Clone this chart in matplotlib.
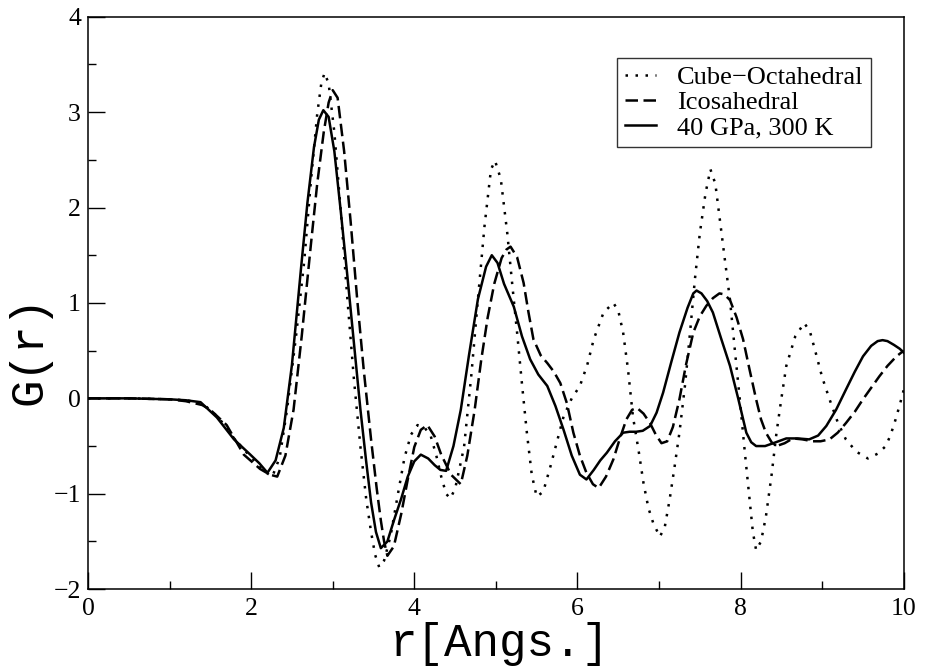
import numpy as np
import matplotlib
matplotlib.use("Agg")
import matplotlib.pyplot as plt

# values
r_cubo = [0.0, 0.5, 1.0, 1.2, 1.4, 1.6, 1.8, 2.0, 2.15, 2.26, 2.35, 2.44, 2.55, 2.65, 2.73, 2.81, 2.86, 2.9,
          2.95, 3.02, 3.1, 3.18, 3.26, 3.34, 3.41, 3.47, 3.52, 3.57, 3.63, 3.71, 3.8, 3.88, 3.96, 4.04, 4.12,
          4.2, 4.27, 4.33, 4.39, 4.44, 4.5, 4.61, 4.7, 4.78, 4.86, 4.94, 4.99, 5.06, 5.14, 5.2, 5.26, 5.32,
          5.38, 5.44, 5.5, 5.58, 5.67, 5.75, 5.83, 5.93, 6.03, 6.12, 6.2, 6.32, 6.44, 6.5, 6.56, 6.62, 6.68,
          6.75, 6.81, 6.87, 6.93, 7.01, 7.07, 7.13, 7.19, 7.25, 7.32, 7.38, 7.44, 7.5, 7.57, 7.63, 7.69, 7.74,
          7.8, 7.87, 7.93, 7.99, 8.05, 8.11, 8.15, 8.19, 8.25, 8.31, 8.38, 8.44, 8.5, 8.56, 8.67, 8.78, 8.85,
          8.92, 9.0, 9.09, 9.19, 9.29, 9.42, 9.56, 9.68, 9.78, 9.84, 9.9, 9.95, 10.0]
g_cubo = [0.0, 0.0, -0.01, -0.02, -0.05, -0.2, -0.43, -0.62, -0.76, -0.82, -0.62, -0.12, 0.65, 1.43, 2.25,
          2.98, 3.3, 3.41, 3.3, 2.79, 1.95, 1.04, 0.2, -0.51, -1.05, -1.4, -1.64, -1.77, -1.7, -1.44, -1.0,
          -0.62, -0.38, -0.28, -0.3, -0.39, -0.6, -0.82, -1.0, -1.05, -0.95, -0.51, 0.25, 1.04, 1.8, 2.4, 2.49,
          2.3, 1.73, 1.2, 0.69, 0.15, -0.36, -0.8, -1.03, -0.98, -0.71, -0.45, -0.19, 0.0, 0.13, 0.35, 0.62,
          0.9, 1.0, 0.92, 0.69, 0.3, -0.19, -0.55, -0.89, -1.15, -1.31, -1.45, -1.35, -1.06, -0.72, -0.36,
          0.15, 0.69, 1.25, 1.73, 2.15, 2.4, 2.25, 1.91, 1.5, 1.03, 0.5, -0.01, -0.55, -1.06, -1.4, -1.59,
          -1.5, -1.24, -0.8, -0.36, 0.0, 0.34, 0.65, 0.79, 0.7, 0.48, 0.22, -0.01, -0.25, -0.43, -0.56,
          -0.63, -0.58, -0.5, -0.38, -0.22, -0.07, 0.09]

r_ico = [0.0, 0.5, 1.0, 1.2, 1.4, 1.5, 1.7, 1.91, 2.11, 2.23, 2.32, 2.42, 2.52, 2.62, 2.73, 2.81, 2.89, 2.95,
         3.0, 3.06, 3.14, 3.22, 3.3, 3.38, 3.47, 3.54, 3.59, 3.63, 3.67, 3.75, 3.84, 3.92, 4.0, 4.08, 4.16,
         4.25, 4.33, 4.45, 4.57, 4.65, 4.74, 4.82, 4.9, 4.98, 5.07, 5.13, 5.18, 5.26, 5.34, 5.4, 5.46, 5.55,
         5.63, 5.71, 5.79, 5.87, 5.95, 6.03, 6.11, 6.19, 6.26, 6.35, 6.44, 6.52, 6.6, 6.67, 6.73, 6.81,
         6.89, 6.96, 7.03, 7.1, 7.17, 7.25, 7.33, 7.42, 7.5, 7.58, 7.66, 7.74, 7.8, 7.87, 7.95, 8.03, 8.11,
         8.19, 8.25, 8.31, 8.38, 8.44, 8.54, 8.64, 8.76, 8.88, 8.98, 9.09, 9.19, 9.29, 9.4, 9.5, 9.6, 9.7,
         9.8, 9.91, 10.0]
g_ico = [0.0, 0.0, -0.01, -0.03, -0.07, -0.12, -0.28, -0.59, -0.74, -0.8, -0.82, -0.6, -0.12, 0.65, 1.59,
         2.25, 2.79, 3.1, 3.23, 3.15, 2.59, 1.85, 1.04, 0.3, -0.43, -0.95, -1.28, -1.5, -1.65, -1.55,
         -1.21, -0.85, -0.51, -0.33, -0.28, -0.4, -0.59, -0.8, -0.9, -0.6, -0.12, 0.4, 0.85, 1.2, 1.47,
         1.56, 1.59, 1.48, 1.21, 0.9, 0.62, 0.45, 0.37, 0.28, 0.16, -0.05, -0.36, -0.6, -0.78, -0.9,
         -0.94, -0.82, -0.64, -0.42, -0.22, -0.12, -0.1, -0.16, -0.26, -0.38, -0.47, -0.45, -0.3, -0.01,
         0.35, 0.69, 0.86, 0.97, 1.05, 1.1, 1.09, 1.03, 0.85, 0.62, 0.3, -0.01, -0.22, -0.36, -0.46, -0.5,
         -0.47, -0.42, -0.43, -0.45, -0.45, -0.43, -0.36, -0.26, -0.14, -0.01, 0.11, 0.23, 0.34, 0.44, 0.5]

r_40gpa = [0.0, 0.5, 1.0, 1.2, 1.38, 1.58, 1.79, 1.99, 2.1, 2.2, 2.3, 2.4, 2.5, 2.61, 2.69, 2.77, 2.83,
           2.885, 2.95, 3.02, 3.1, 3.18, 3.26, 3.34, 3.41, 3.47, 3.53, 3.59, 3.67, 3.75, 3.84, 3.92, 4.0,
           4.08, 4.17, 4.25, 4.32, 4.39, 4.48, 4.57, 4.67, 4.78, 4.88, 4.95, 5.02, 5.1, 5.22, 5.32, 5.42,
           5.52, 5.63, 5.73, 5.83, 5.93, 6.03, 6.11, 6.2, 6.28, 6.36, 6.46, 6.56, 6.64, 6.72, 6.8, 6.89,
           6.97, 7.05, 7.15, 7.25, 7.35, 7.42, 7.46, 7.52, 7.59, 7.66, 7.76, 7.87, 7.97, 8.07, 8.13, 8.19,
           8.3, 8.4, 8.56, 8.7, 8.84, 8.95, 9.05, 9.17, 9.29, 9.4, 9.5, 9.6, 9.68, 9.74, 9.8, 9.88, 9.95,
           10.0]
g_40gpa = [0.0, 0.0, -0.01, -0.02, -0.04, -0.2, -0.43, -0.59, -0.68, -0.78, -0.65, -0.31, 0.35, 1.35, 2.05,
           2.63, 2.92, 3.02, 2.95, 2.59, 1.95, 1.28, 0.58, -0.12, -0.66, -1.09, -1.4, -1.57, -1.5, -1.28,
           -1.05, -0.82, -0.66, -0.59, -0.63, -0.7, -0.75, -0.76, -0.5, -0.12, 0.45, 1.04, 1.38, 1.5, 1.42,
           1.2, 0.96, 0.65, 0.41, 0.25, 0.13, -0.08, -0.33, -0.6, -0.8, -0.85, -0.75, -0.65, -0.57, -0.45,
           -0.36, -0.35, -0.35, -0.34, -0.29, -0.15, 0.06, 0.38, 0.69, 0.95, 1.1, 1.13, 1.1, 1.02, 0.9, 0.63,
           0.34, 0.0, -0.36, -0.46, -0.5, -0.5, -0.47, -0.42, -0.42, -0.43, -0.39, -0.29, -0.12, 0.09, 0.28,
           0.44, 0.55, 0.6, 0.61, 0.6, 0.56, 0.52, 0.48]

labels = ["Cube\u2212Octahedral", "Icosahedral", "40 GPa, 300 K"]

serif = "Liberation Serif"
mono = "Liberation Mono"

fig = plt.figure(figsize=(9.26, 6.68), dpi=100)
ax = fig.add_axes([0.095, 0.118, 0.881, 0.857])

lw = 1.8
ax.plot(r_cubo, g_cubo, color="black", lw=lw, linestyle=(0, (1, 3)), label=labels[0])
ax.plot(r_ico, g_ico, color="black", lw=lw, linestyle=(0, (5, 2.2)), label=labels[1])
ax.plot(r_40gpa, g_40gpa, color="black", lw=lw, linestyle="-", label=labels[2])

ax.set_xlim(0, 10)
ax.set_ylim(-2, 4)
ax.set_xticks([0, 2, 4, 6, 8, 10])
ax.set_xticks(np.arange(1, 10, 2), minor=True)
ax.set_yticks([-2, -1, 0, 1, 2, 3, 4])
ax.set_yticks(np.arange(-1.5, 4, 1), minor=True)
ax.tick_params(which="both", direction="in", top=False, right=False, width=1.0)
ax.tick_params(which="major", length=12)
ax.tick_params(which="minor", length=6)
ax.tick_params(axis="x", pad=6)
ax.tick_params(axis="y", pad=5)
for lab in ax.get_xticklabels() + ax.get_yticklabels():
    lab.set_fontfamily(serif)
    lab.set_fontsize(18.5)
for sp in ax.spines.values():
    sp.set_linewidth(1.1)

ax.set_xlabel("r[Angs.]", fontfamily=mono, fontsize=33)
ax.set_ylabel("G(r)", fontfamily=mono, fontsize=33)
ax.xaxis.set_label_coords(0.505, -0.058)
ax.yaxis.set_label_coords(-0.045, 0.418)

leg = ax.legend(loc="upper right", bbox_to_anchor=(0.96, 0.928), borderaxespad=0,
                prop={"family": serif, "size": 19}, frameon=True, fancybox=False,
                edgecolor="black", handlelength=1.15, handletextpad=0.8,
                labelspacing=0.06, borderpad=0.3)
leg.get_frame().set_linewidth(1.0)

fig.savefig("out.png", dpi=100)
